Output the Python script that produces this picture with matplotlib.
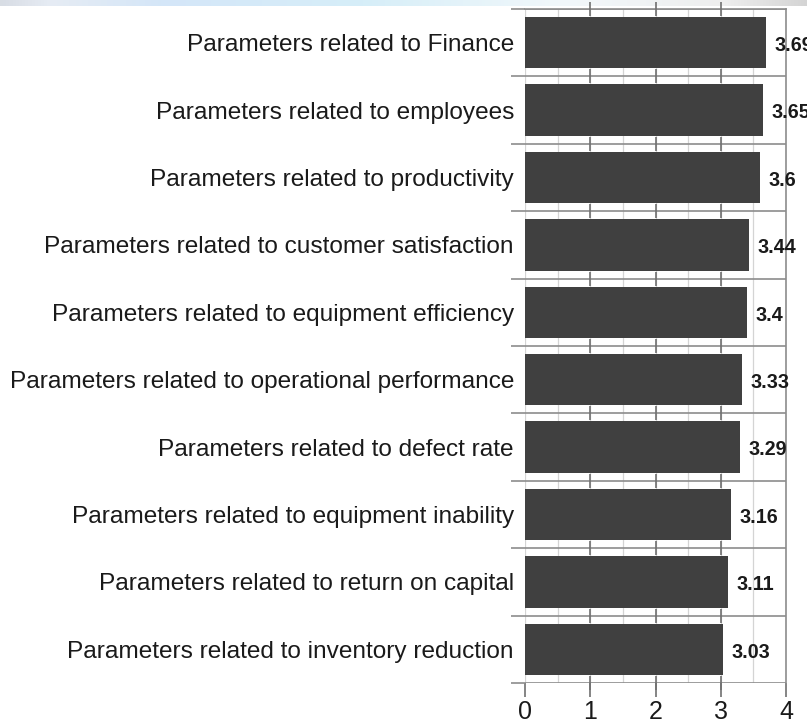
import numpy as np
import matplotlib
matplotlib.use("Agg")
import matplotlib.pyplot as plt
from matplotlib.colors import LinearSegmentedColormap

categories = [
    "Parameters related to Finance",
    "Parameters related to employees",
    "Parameters related to productivity",
    "Parameters related to customer satisfaction",
    "Parameters related to equipment efficiency",
    "Parameters related to operational performance",
    "Parameters related to defect rate",
    "Parameters related to equipment inability",
    "Parameters related to return on capital",
    "Parameters related to inventory reduction",
]
values = [3.69, 3.65, 3.6, 3.44, 3.4, 3.33, 3.29, 3.16, 3.11, 3.03]
value_labels = ["3.69", "3.65", "3.6", "3.44", "3.4", "3.33", "3.29", "3.16", "3.11", "3.03"]
x_ticks = [0, 1, 2, 3, 4]

plt.rcParams['font.family'] = ['Liberation Sans', 'DejaVu Sans']

W, H = 807, 725
fig = plt.figure(figsize=(W / 100, H / 100), dpi=100)
fig.patch.set_facecolor('white')

# top light-blue band (screenshot background)
band = fig.add_axes([0, 1 - 6 / H, 1, 6 / H])
cmap = LinearSegmentedColormap.from_list(
    'band', [(0.0, '#d8dde4'), (0.06, '#e6ecf4'), (0.2, '#d4e6f8'), (0.45, '#d6eef8'),
             (0.7, '#f2f8fb'), (0.9, '#eeeeee'), (1.0, '#d4d4d4')])
band.imshow(np.linspace(0, 1, 256)[None, :], aspect='auto', cmap=cmap, extent=[0, 1, 0, 1])
band.axis('off')

left = 525 / W
right = 786 / W
top = 1 - 9 / H
bottom = 1 - 683 / H
ax = fig.add_axes([left, bottom, right - left, top - bottom])

n = len(categories)
ypos = np.arange(n)
ax.set_xlim(0, 4)
ax.set_ylim(n - 0.5, -0.5)

# light vertical gridlines
ax.set_xticks(np.arange(0, 4.01, 0.5), minor=True)
ax.grid(axis='x', which='minor', color='#d4d4d4', linewidth=0.9, zorder=0)
ax.grid(axis='x', which='major', color='#d4d4d4', linewidth=0.9, zorder=0)

ax.barh(ypos, values, height=0.76, color='#404040', zorder=2)

# separators between categories
ax.set_yticks(np.arange(-0.5, n, 1), minor=True)
ax.grid(axis='y', which='minor', color='#8c8c8c', linewidth=1.2, zorder=3)
ax.tick_params(axis='y', which='minor', length=10, width=1.2, color='#8c8c8c', direction='out')

ax.set_yticks(ypos)
ax.set_yticklabels(categories, fontsize=17.6, color='#1a1a1a')
ax.tick_params(axis='y', which='major', length=0, pad=8)

ax.set_xticks(x_ticks)
ax.set_xticklabels([str(t) for t in x_ticks], fontsize=18, color='#1a1a1a')
ax.tick_params(axis='x', which='major', length=10, width=1.2, color='#707070', direction='out', pad=2)
ax.tick_params(axis='x', which='minor', length=0)

# small integer tick marks crossing each separator
seps = np.arange(-0.5, n, 1)
for xi in x_ticks[1:-1]:
    ax.plot([xi] * len(seps), seps, linestyle='none', marker='|', markersize=10,
            markeredgewidth=1.2, color='#707070', zorder=4, clip_on=False)

for s in ['left', 'bottom']:
    ax.spines[s].set_visible(False)
for s in ['top', 'right']:
    ax.spines[s].set_color('#8c8c8c')
    ax.spines[s].set_linewidth(1.2)

for y, v, lab in zip(ypos, values, value_labels):
    ax.annotate(lab, (v, y), xytext=(6, -2), textcoords='offset points',
                ha='left', va='center', fontsize=14.2, fontweight='bold',
                color='#1a1a1a', annotation_clip=False, zorder=5)

fig.savefig('out.png', dpi=100, facecolor='white')
